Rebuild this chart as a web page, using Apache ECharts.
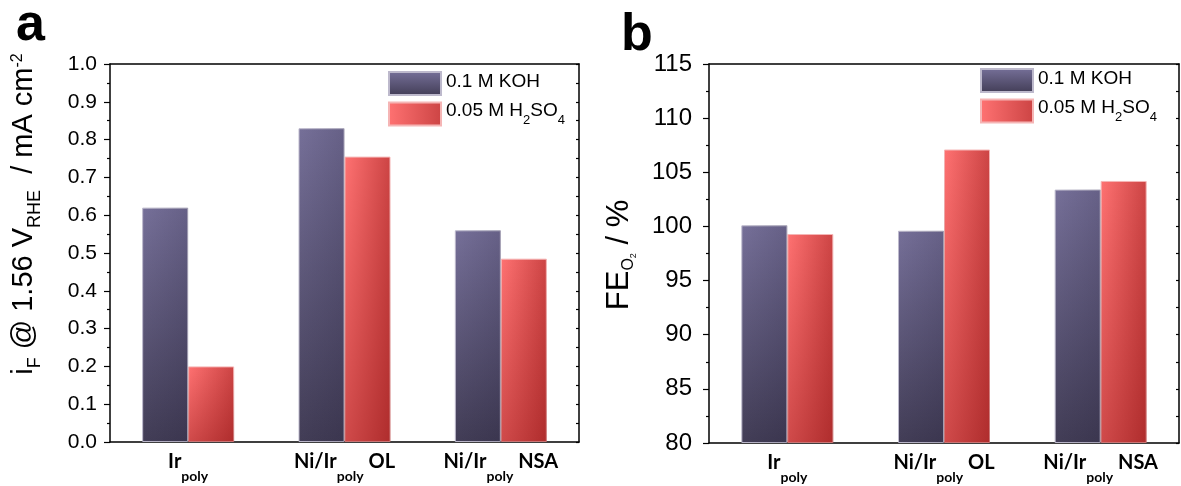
<!DOCTYPE html>
<html><head><meta charset="utf-8">
<script src="https://cdn.jsdelivr.net/npm/echarts@6/dist/echarts.min.js"></script>
<style>html,body{margin:0;padding:0;background:#fff}#c{width:1181px;height:486px}</style>
</head><body><div id="c"></div>
<script>
// ---- data ----
const categories = ['Ir_poly', 'Ni/Ir_poly OL', 'Ni/Ir_poly NSA'];
const seriesNames = ['0.1 M KOH', '0.05 M H_2SO_4'];
const currentKOH = [0.62, 0.83, 0.56];
const currentH2SO4 = [0.20, 0.755, 0.485];
const feKOH = [100.1, 99.6, 103.4];
const feH2SO4 = [99.3, 107.1, 104.2];
const currentAxis = [0, 1, 0.1];   // min, max, interval
const feAxis = [80, 115, 5];

// ---- styles ----
const NUM_FONT = 'Liberation Sans, Arial, sans-serif';
const CAT_FONT = 'Lato, Open Sans, sans-serif';
const kohColor = {type:'linear',x:0,y:0,x2:0,y2:1,colorStops:[{offset:0,color:'#767099'},{offset:1,color:'#423d56'}]};
const kohOverlay = {type:'linear',x:0,y:0,x2:1,y2:0,colorStops:[{offset:0,color:'rgba(20,15,40,0)'},{offset:1,color:'rgba(20,15,40,0.16)'}]};
const acidColor = {type:'linear',x:0,y:0,x2:1,y2:0,colorStops:[{offset:0,color:'#ff7272'},{offset:1,color:'#cc4444'}]};
const acidOverlay = {type:'linear',x:0,y:0,x2:0,y2:1,colorStops:[{offset:0,color:'rgba(120,0,0,0)'},{offset:1,color:'rgba(120,0,0,0.35)'}]};

function catFmt(v){ return '{n|' + v.replace(/_(\w+)/, '}{s|$1}{n|') + '}'; }
function legFmt(v){ return '{t|' + v.replace(/_(\d)/g, '}{s|$1}{t|') + '}'; }

const catRich = {
  n:{fontSize:20,fontWeight:'bold',fontFamily:CAT_FONT,color:'#000',lineHeight:24,verticalAlign:'top'},
  s:{fontSize:14,fontWeight:'bold',fontFamily:CAT_FONT,color:'#000',padding:[17,0,0,0],verticalAlign:'top'}
};
const legRich = {
  t:{fontSize:19,fontFamily:NUM_FONT,color:'#000',lineHeight:22,verticalAlign:'top'},
  s:{fontSize:13,fontFamily:NUM_FONT,color:'#000',padding:[13,0,0,0],verticalAlign:'top'}
};
const line = {show:true,onZero:false,lineStyle:{color:'#000',width:1.5}};

function xAxes(gi){
  return [
    {gridIndex:gi,type:'category',data:categories,position:'bottom',axisLine:line,axisTick:{show:false},
     axisLabel:{interval:0,margin:10,formatter:catFmt,rich:catRich},splitLine:{show:false}},
    {gridIndex:gi,type:'category',data:categories,position:'top',axisLine:line,axisTick:{show:false},
     axisLabel:{show:false},splitLine:{show:false}}
  ];
}
function yAxes(gi, ax, dec, margin, fs){
  return [
    {gridIndex:gi,type:'value',min:ax[0],max:ax[1],interval:ax[2],startValue:ax[0],position:'left',axisLine:line,
     axisTick:{show:true,inside:false,length:6,lineStyle:{color:'#000',width:1.2}},
     minorTick:{show:true,splitNumber:2,length:3,lineStyle:{color:'#000',width:1.2}},
     axisLabel:{margin:margin,fontSize:fs,fontFamily:NUM_FONT,color:'#000',formatter:v=>v.toFixed(dec)},
     splitLine:{show:false}},
    {gridIndex:gi,type:'value',min:ax[0],max:ax[1],interval:ax[2]/2,position:'right',axisLine:line,
     axisTick:{show:true,inside:true,length:3,lineStyle:{color:'#000',width:1.2}},
     axisLabel:{show:false},splitLine:{show:false}}
  ];
}
function bars(gi, koh, acid){
  const bx = gi*2, ox = gi*2+1, y = gi*2;
  const common = {type:'bar',barWidth:46,barGap:'0%',yAxisIndex:y};
  return [
    Object.assign({},common,{name:seriesNames[0],xAxisIndex:bx,data:koh,
      itemStyle:{color:kohColor,borderColor:'#bdb9cc',borderWidth:1}}),
    Object.assign({},common,{name:seriesNames[1],xAxisIndex:bx,data:acid,
      itemStyle:{color:acidColor,borderColor:'#f5b5b5',borderWidth:1}}),
    Object.assign({},common,{name:'ov'+gi+'a',xAxisIndex:ox,data:koh,silent:true,
      itemStyle:{color:kohOverlay}}),
    Object.assign({},common,{name:'ov'+gi+'b',xAxisIndex:ox,data:acid,silent:true,
      itemStyle:{color:acidOverlay}})
  ];
}
function legend(left, top){
  return {left:left,top:top,padding:0,orient:'vertical',itemWidth:52,itemHeight:23,itemGap:5,icon:'rect',
    data:seriesNames,formatter:legFmt,textStyle:{rich:legRich,fontSize:19,fontFamily:NUM_FONT,color:'#000'}};
}

const chart = echarts.init(document.getElementById('c'), null, {renderer:'canvas'});
chart.setOption({
  animation:false,
  backgroundColor:'#fff',
  grid:[{left:110,top:64,width:469,height:378},{left:709,top:64,width:470,height:379}],
  legend:[legend(388,71), legend(980,68)],
  xAxis:[].concat(xAxes(0), xAxes(1)),
  yAxis:[].concat(yAxes(0,currentAxis,1,13,21), yAxes(1,feAxis,0,17,24)),
  series:[].concat(bars(0,currentKOH,currentH2SO4), bars(1,feKOH,feH2SO4)),
  graphic:[
    {type:'text',x:16,y:26,style:{text:'a',font:'bold 52px '+NUM_FONT,fill:'#000',align:'left',verticalAlign:'middle'}},
    {type:'text',x:621,y:36,style:{text:'b',font:'bold 52px '+NUM_FONT,fill:'#000',align:'left',verticalAlign:'middle'}},
    {type:'text',x:27,y:214,rotation:Math.PI/2,style:{
      text:'{m|i}{s|F}{m| @ 1.56 V}{s|RHE}{m|  / mA cm}{p|-2}',align:'center',verticalAlign:'middle',
      rich:{m:{fontSize:29,fontFamily:NUM_FONT,fill:'#000',lineHeight:33,verticalAlign:'top'},
            s:{fontSize:18,fontFamily:NUM_FONT,fill:'#000',padding:[17,0,0,0],verticalAlign:'top'},
            p:{fontSize:16,fontFamily:NUM_FONT,fill:'#000',verticalAlign:'top'}}}},
    {type:'text',x:621,y:255,rotation:Math.PI/2,style:{
      text:'{m|FE}{s|O}{ss|2}{m| / %}',align:'center',verticalAlign:'middle',
      rich:{m:{fontSize:31,fontFamily:NUM_FONT,fill:'#000',lineHeight:34,verticalAlign:'top'},
            s:{fontSize:16,fontFamily:NUM_FONT,fill:'#000',padding:[17,0,0,0],verticalAlign:'top'},
            ss:{fontSize:9,fontFamily:NUM_FONT,fill:'#000',padding:[26,0,0,0],verticalAlign:'top'}}}}
  ]
});
</script></body></html>
